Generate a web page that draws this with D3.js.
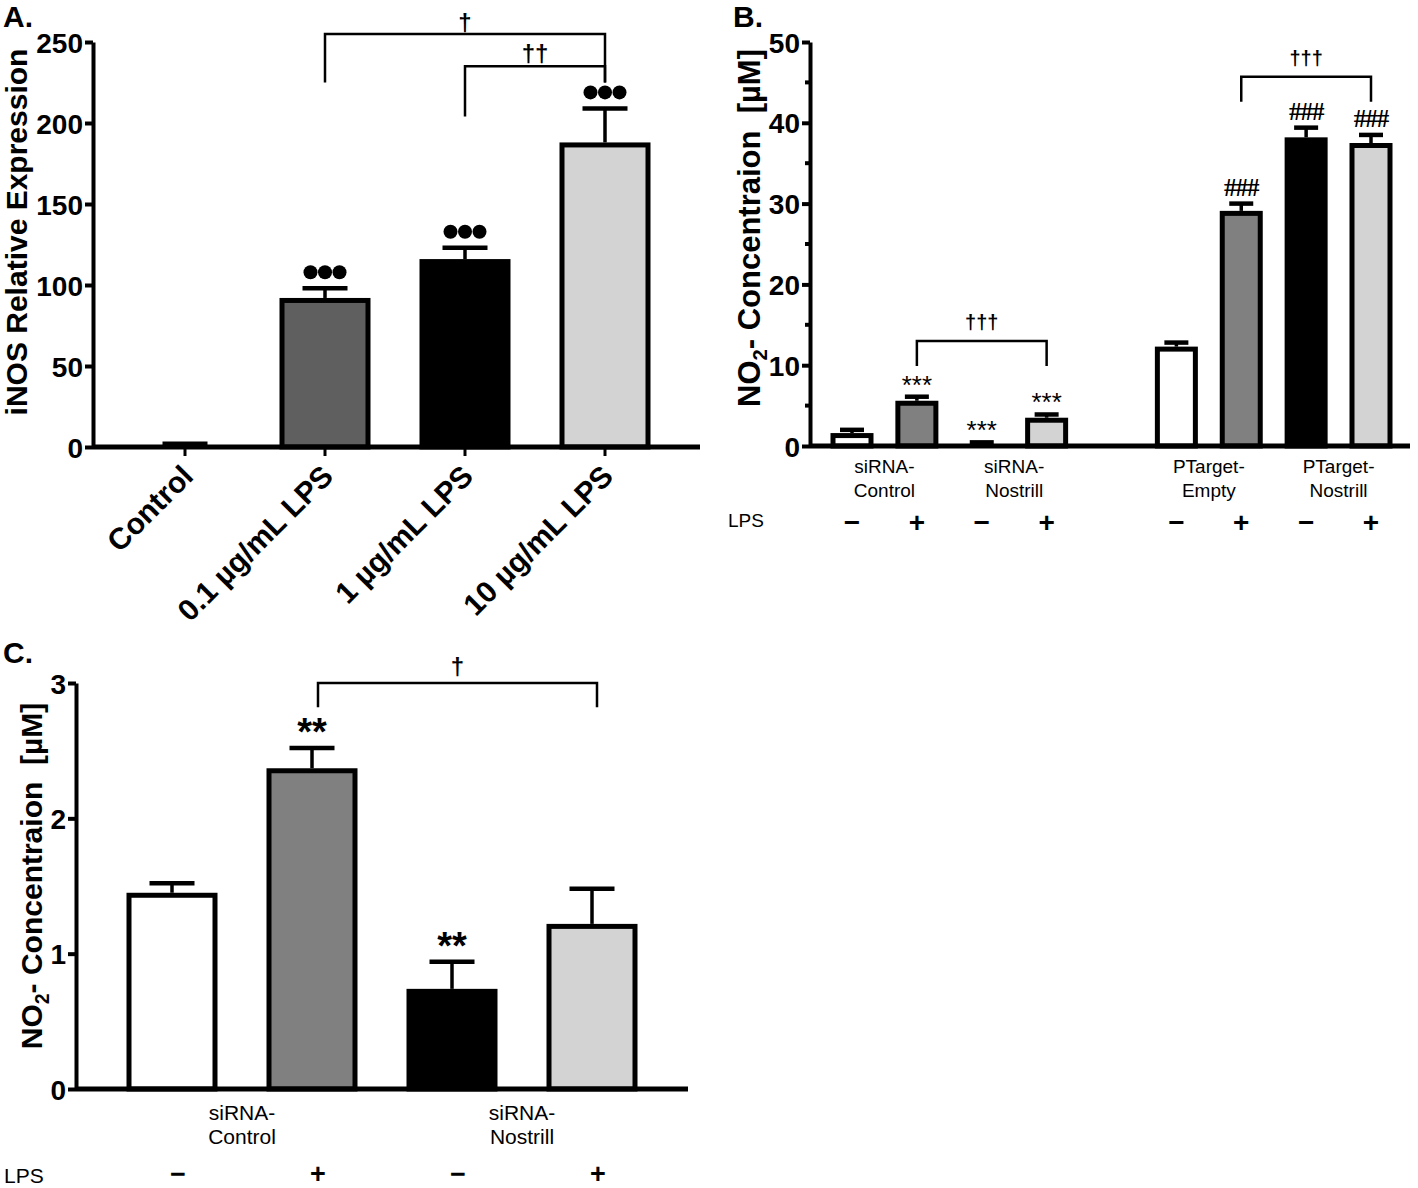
<!DOCTYPE html>
<html><head><meta charset="utf-8">
<script src="https://cdn.jsdelivr.net/npm/d3@7"></script>
<style>
body{margin:0;background:#fff}
text{font-family:"Liberation Sans",Arial,sans-serif}
</style>
</head><body>
<svg id="chart" width="1418" height="1188"></svg>
<script>
// ---------- Panel A data ----------
const aCategories = ["Control", "0.1 µg/mL LPS", "1 µg/mL LPS", "10 µg/mL LPS"];
const aValues = [1, 92, 116, 188];
const aErrors = [1, 6, 7, 21];
const aColors = ["#ffffff", "#5f5f5f", "#000000", "#d3d3d3"];
const aTicks = [0, 50, 100, 150, 200, 250];
const aMarks = ["", "●●●", "●●●", "●●●"];

// ---------- Panel B data ----------
const bGroups = ["siRNA-|Control", "siRNA-|Nostrill", "PTarget-|Empty", "PTarget-|Nostrill"];
const bLPS = ["−", "+", "−", "+", "−", "+", "−", "+"];
const bValues = [1.6, 5.6, 0.15, 3.5, 12.3, 29.1, 38.2, 37.5];
const bErrors = [0.4, 0.5, 0.3, 0.4, 0.5, 0.9, 1.2, 1.0];
const bColors = ["#ffffff", "#808080", "#000000", "#d3d3d3", "#ffffff", "#808080", "#000000", "#d3d3d3"];
const bMarks = ["", "***", "***", "***", "", "###", "###", "###"];
const bTicks = [0, 10, 20, 30, 40, 50];
const bMinorTicks = [5, 15, 25, 35, 45];

// ---------- Panel C data ----------
const cGroups = ["siRNA-|Control", "siRNA-|Nostrill"];
const cLPS = ["−", "+", "−", "+"];
const cValues = [1.45, 2.37, 0.74, 1.22];
const cErrors = [0.07, 0.15, 0.20, 0.26];
const cColors = ["#ffffff", "#808080", "#000000", "#d3d3d3"];
const cMarks = ["", "**", "**", ""];
const cTicks = [0, 1, 2, 3];

const svg = d3.select("#chart");

function yAxis(g, y, ticks, fs, minor) {
  const ax = d3.axisLeft(y).tickValues(ticks).tickSize(8).tickSizeOuter(0).tickPadding(2).tickFormat(d3.format("d"));
  g.call(ax);
  g.select(".domain").attr("stroke", "#000").attr("stroke-width", 4);
  g.selectAll(".tick line").attr("stroke", "#000").attr("stroke-width", 4);
  g.selectAll(".tick text").attr("fill", "#000").style("font-size", fs + "px").style("font-weight", "bold")
    .style("font-family", '"Liberation Sans",Arial,sans-serif').attr("dy", "0.36em");
  if (minor) {
    g.selectAll(".minor").data(minor).join("line").attr("class", "minor")
      .attr("x1", -5).attr("x2", 0).attr("y1", d => y(d)).attr("y2", d => y(d))
      .attr("stroke", "#000").attr("stroke-width", 4);
  }
}

function bars(g, xs, w, y, values, errors, colors, sw, capW) {
  values.forEach((v, i) => {
    const cx = xs[i];
    const top = y(v), base = y(0);
    const et = y(v + errors[i]);
    g.append("line").attr("x1", cx).attr("x2", cx).attr("y1", top).attr("y2", et)
      .attr("stroke", "#000").attr("stroke-width", 3.5);
    g.append("line").attr("x1", cx - capW / 2).attr("x2", cx + capW / 2).attr("y1", et).attr("y2", et)
      .attr("stroke", "#000").attr("stroke-width", 4.5);
    const y1 = Math.min(top + sw / 2, base);
    g.append("rect").attr("x", cx - w / 2 + sw / 2).attr("width", w - sw)
      .attr("y", y1).attr("height", base - y1)
      .attr("fill", colors[i]).attr("stroke", "#000").attr("stroke-width", sw);
  });
}

function bracket(g, x1, x2, yTop, yL, yR, label, fs, labelY, bold) {
  g.append("path").attr("d", `M${x1},${yL}V${yTop}H${x2}V${yR}`)
    .attr("fill", "none").attr("stroke", "#000").attr("stroke-width", 2.5);
  g.append("text").attr("x", (x1 + x2) / 2).attr("y", labelY).attr("text-anchor", "middle")
    .style("font-size", fs + "px").style("font-weight", bold ? "bold" : "normal").text(label);
}

function noTitle(g, x, y, fs) {
  const t = g.append("text").attr("transform", `translate(${x},${y}) rotate(-90)`)
    .attr("text-anchor", "middle").style("font-size", fs + "px").style("font-weight", "bold")
    .style("white-space", "pre");
  t.append("tspan").text("NO");
  t.append("tspan").attr("dy", 7).style("font-size", (fs * 0.65) + "px").text("2");
  t.append("tspan").attr("dy", -7).text("- Concentraion  [µM]");
}

// ================= Panel A =================
{
  const g = svg.append("g");
  const y = d3.scaleLinear().domain([0, 250]).range([447, 42]);
  const x = d3.scaleBand().domain(aCategories).range([115, 675]).paddingInner(0.35).paddingOuter(0.175);
  const xs = aCategories.map(c => x(c) + x.bandwidth() / 2);
  const w = x.bandwidth();

  bars(g, xs, w, y, aValues, aErrors, aColors, 5, 45);

  g.append("line").attr("x1", 93).attr("x2", 700).attr("y1", y(0)).attr("y2", y(0)).attr("stroke", "#000").attr("stroke-width", 5);
  g.selectAll(".xt").data(xs).join("line").attr("x1", d => d).attr("x2", d => d)
    .attr("y1", y(0)).attr("y2", y(0) + 9).attr("stroke", "#000").attr("stroke-width", 3);
  yAxis(g.append("g").attr("transform", "translate(93,0)"), y, aTicks, 28);

  aCategories.forEach((c, i) => {
    g.append("text").attr("transform", `translate(${xs[i] + 10},${478}) rotate(-45)`)
      .attr("text-anchor", "end").style("font-size", "30px").style("font-weight", "bold").text(c);
  });

  aValues.forEach((v, i) => {
    if (!aMarks[i]) return;
    const cy = y(v + aErrors[i]) - 16;
    [-1, 0, 1].forEach(k => g.append("ellipse").attr("cx", xs[i] + k * 14.5).attr("cy", cy).attr("rx", 7).attr("ry", 7).attr("fill", "#000"));
  });

  bracket(g, xs[1], xs[3], y(255), y(225), y(225), "†", 24, 31, true);
  bracket(g, xs[2], xs[3], y(235), y(204), y(225), "††", 24, 62, true);

  g.append("text").attr("x", 3).attr("y", 27).style("font-size", "30px").style("font-weight", "bold").text("A.");
  g.append("text").attr("transform", "translate(27,232) rotate(-90)").attr("text-anchor", "middle")
    .style("font-size", "30px").style("font-weight", "bold").text("iNOS Relative Expression");
}

// ================= Panel B =================
{
  const g = svg.append("g");
  const y = d3.scaleLinear().domain([0, 50]).range([446, 42]);
  const slot = d3.scalePoint().domain(d3.range(9)).range([852, 1371]);
  const xs = bValues.map((v, i) => slot(i < 4 ? i : i + 1));
  const w = 43;

  bars(g, xs, w, y, bValues, bErrors, bColors, 5, 24);

  g.append("line").attr("x1", 810).attr("x2", 1410).attr("y1", y(0)).attr("y2", y(0)).attr("stroke", "#000").attr("stroke-width", 5);
  yAxis(g.append("g").attr("transform", "translate(810,0)"), y, bTicks, 28, bMinorTicks);

  bValues.forEach((v, i) => {
    if (!bMarks[i]) return;
    const top = y(v + bErrors[i]);
    const isHash = bMarks[i] === "###";
    g.append("text").attr("x", xs[i]).attr("y", isHash ? top - 8 : top - 3).attr("text-anchor", "middle")
      .style("font-size", isHash ? "25px" : "26px")
      .style("font-weight", isHash ? "bold" : "normal")
      .style("font-family", isHash ? '"Liberation Serif",serif' : '"Liberation Sans",Arial,sans-serif')
      .style("letter-spacing", isHash ? "-1px" : "0px")
      .text(bMarks[i]);
  });

  bracket(g, xs[1], xs[3], y(13.0), y(9.9), y(9.9), "†††", 20, 329, true);
  bracket(g, xs[5], xs[7], y(45.7), y(42.6), y(42.6), "†††", 20, 65, true);

  bGroups.forEach((lab, k) => {
    const cx = (xs[2 * k] + xs[2 * k + 1]) / 2;
    lab.split("|").forEach((p, j) => g.append("text").attr("x", cx).attr("y", 473 + j * 24).attr("text-anchor", "middle")
      .style("font-size", "19px").text(p));
  });
  g.append("text").attr("x", 728).attr("y", 527).style("font-size", "19px").text("LPS");
  bLPS.forEach((s, i) => g.append("text").attr("x", xs[i]).attr("y", 532).attr("text-anchor", "middle")
    .style("font-size", "28px").style("font-weight", "bold").text(s));

  g.append("text").attr("x", 733).attr("y", 27).style("font-size", "30px").style("font-weight", "bold").text("B.");
  noTitle(g, 760, 228, 31);
}

// ================= Panel C =================
{
  const g = svg.append("g");
  const y = d3.scaleLinear().domain([0, 3]).range([1089, 683]);
  const x = d3.scaleBand().domain(d3.range(4)).range([102, 662]).paddingInner(0.35).paddingOuter(0.175);
  const xs = cValues.map((v, i) => x(i) + x.bandwidth() / 2);
  const w = x.bandwidth();

  bars(g, xs, w, y, cValues, cErrors, cColors, 5, 45);

  g.append("line").attr("x1", 76).attr("x2", 688).attr("y1", y(0)).attr("y2", y(0)).attr("stroke", "#000").attr("stroke-width", 5);
  yAxis(g.append("g").attr("transform", "translate(76,0)"), y, cTicks, 28);

  cValues.forEach((v, i) => {
    if (!cMarks[i]) return;
    g.append("text").attr("x", xs[i]).attr("y", y(v + cErrors[i]) - 3).attr("text-anchor", "middle")
      .style("font-size", "38px").style("font-weight", "bold").text(cMarks[i]);
  });

  bracket(g, xs[1] + 6, xs[3] + 5, y(3.0), y(2.82), y(2.82), "†", 24, 675, true);

  cGroups.forEach((lab, k) => {
    const cx = (xs[2 * k] + xs[2 * k + 1]) / 2;
    lab.split("|").forEach((p, j) => g.append("text").attr("x", cx).attr("y", 1120 + j * 24).attr("text-anchor", "middle")
      .style("font-size", "21px").text(p));
  });
  g.append("text").attr("x", 4).attr("y", 1183).style("font-size", "21px").text("LPS");
  cLPS.forEach((s, i) => g.append("text").attr("x", xs[i] + 6).attr("y", 1183).attr("text-anchor", "middle")
    .style("font-size", "27px").style("font-weight", "bold").text(s));

  g.append("text").attr("x", 3).attr("y", 663).style("font-size", "30px").style("font-weight", "bold").text("C.");
  noTitle(g, 42, 876, 30);
}
</script>
</body></html>
